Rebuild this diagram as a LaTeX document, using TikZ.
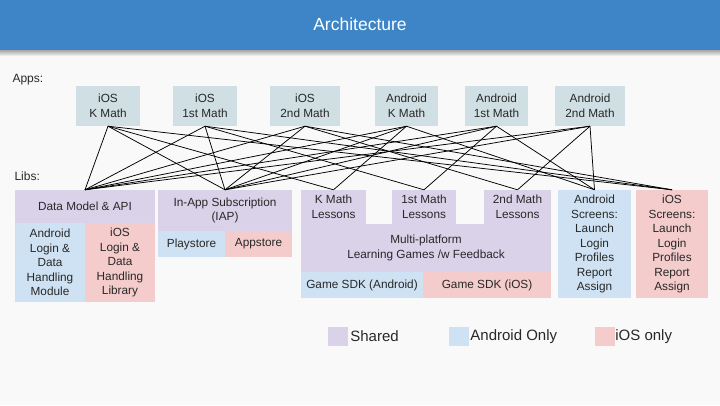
\documentclass[tikz,border=0pt]{standalone}
\usepackage{fontspec}
\setmainfont{Liberation Sans}
\usetikzlibrary{positioning}
\definecolor{titleBar}{RGB}{61, 133, 198}
\definecolor{appBox}{RGB}{208, 223, 227}
\definecolor{sharedLib}{RGB}{217, 210, 233}
\definecolor{androidLib}{RGB}{207, 226, 243}
\definecolor{iosLib}{RGB}{244, 204, 204}
\definecolor{pageBg}{RGB}{249, 249, 249}
\definecolor{boxText}{RGB}{40, 40, 40}

\begin{document}
\begin{tikzpicture}[
  x=1pt, y=-1pt,
  box/.style={rectangle, inner sep=0pt, align=center, text=boxText,
    font=\fontsize{11.8}{14.5}\selectfont},
  app/.style={box, fill=appBox},
  shared/.style={box, fill=sharedLib},
  andr/.style={box, fill=androidLib},
  ios/.style={box, fill=iosLib},
  legend/.style={text=boxText, inner sep=0pt, font=\fontsize{15}{18}\selectfont},
  link/.style={draw=black, line width=0.75pt}
]
  % page and title bar
  \fill[pageBg] (0,0) rectangle (720,405);
  \useasboundingbox (0,0) rectangle (720,405);
  \shade[top color=black!35, bottom color=pageBg] (0,50) rectangle (720,56);
  \fill[titleBar] (0,0) rectangle (720,50);
  \node[text=white, font=\fontsize{17.5}{20}\selectfont] (title) at (360,24) {Architecture};

  \node[anchor=west, text=boxText, font=\fontsize{12}{14}\selectfont] (appsLabel) at (9,80) {Apps:};
  \node[anchor=west, text=boxText, font=\fontsize{12}{14}\selectfont] (libsLabel) at (11,176) {Libs:};

  % apps
  \node[app, minimum width=64, minimum height=40] (iosK) at (108,106)   {iOS\\K Math};
  \node[app, minimum width=64, minimum height=40] (ios1) at (205,106)   {iOS\\1st Math};
  \node[app, minimum width=70, minimum height=40] (ios2) at (305,106)   {iOS\\2nd Math};
  \node[app, minimum width=63, minimum height=40] (andK) at (406.5,106) {Android\\K Math};
  \node[app, minimum width=63, minimum height=40] (and1) at (496.5,106) {Android\\1st Math};
  \node[app, minimum width=70, minimum height=40] (and2) at (590,106)   {Android\\2nd Math};

  % libs
  \node[shared, minimum width=140, minimum height=33] (dm) at (85,206.5) {Data Model \& API};
  \node[andr, minimum width=70, minimum height=79] (andLogin) at (50,262.5)
    {Android\\Login \&\\Data\\Handling\\Module};
  \node[ios, minimum width=70, minimum height=79] (iosLogin) at (120,262.5)
    {iOS\\Login \&\\Data\\Handling\\Library};

  \node[shared, minimum width=134, minimum height=41] (iap) at (225,210.5)
    {In-App Subscription\\(IAP)};
  \node[andr, minimum width=67, minimum height=26] (play) at (191.5,244) {Playstore};
  \node[ios, minimum width=67, minimum height=26] (appst) at (258.5,244) {Appstore};

  \node[shared, minimum width=65, minimum height=34] (kLes) at (333.5,207) {K Math\\Lessons};
  \node[shared, minimum width=64, minimum height=34] (les1) at (424,207) {1st Math\\Lessons};
  \node[shared, minimum width=67, minimum height=34] (les2) at (517.5,207) {2nd Math\\Lessons};
  \node[shared, minimum width=250, minimum height=48] (multi) at (426,248)
    {Multi-platform\\Learning Games /w Feedback};
  \node[andr, minimum width=122, minimum height=26] (sdkA) at (362,285) {Game SDK (Android)};
  \node[ios, minimum width=128, minimum height=26] (sdkI) at (487,285) {Game SDK (iOS)};

  \node[andr, minimum width=73, minimum height=108] (andScr) at (594.5,244)
    {Android\\Screens:\\Launch\\Login\\Profiles\\Report\\Assign};
  \node[ios, minimum width=72, minimum height=108] (iosScr) at (672,244)
    {iOS\\Screens:\\Launch\\Login\\Profiles\\Report\\Assign};

  % app -> lib links
  \foreach \a/\l in {iosK/kLes, ios1/les1, ios2/les2}
    \foreach \t in {dm, iap, \l, iosScr}
      \draw[link] (\a.south) -- (\t.north);
  \foreach \a/\l in {andK/kLes, and1/les1, and2/les2}
    \foreach \t in {dm, iap, \l, andScr}
      \draw[link] (\a.south) -- (\t.north);

  % legend
  \node[shared, minimum width=20, minimum height=19] (legShared) at (338,336.5) {};
  \node[legend, right=2pt of legShared] (legSharedText) {Shared};
  \node[andr, minimum width=20, minimum height=19] (legAndr) at (459,336.5) {};
  \node[legend, right=1pt of legAndr] (legAndrText) {Android Only};
  \node[ios, minimum width=20, minimum height=19] (legIos) at (605,336.5) {};
  \node[legend, right=0pt of legIos] (legIosText) {iOS only};
\end{tikzpicture}
\end{document}
